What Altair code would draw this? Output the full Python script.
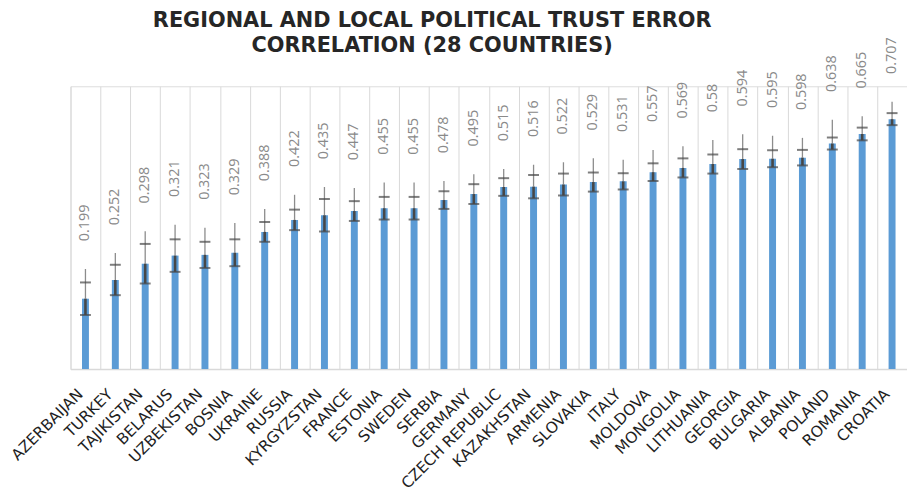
import altair as alt
import pandas as pd

countries = ["AZERBAIJAN", "TURKEY", "TAJIKISTAN", "BELARUS", "UZBEKISTAN", "BOSNIA",
             "UKRAINE", "RUSSIA", "KYRGYZSTAN", "FRANCE", "ESTONIA", "SWEDEN", "SERBIA",
             "GERMANY", "CZECH REPUBLIC", "KAZAKHSTAN", "ARMENIA", "SLOVAKIA", "ITALY",
             "MOLDOVA", "MONGOLIA", "LITHUANIA", "GEORGIA", "BULGARIA", "ALBANIA",
             "POLAND", "ROMANIA", "CROATIA"]
values = [0.199, 0.252, 0.298, 0.321, 0.323, 0.329, 0.388, 0.422, 0.435, 0.447,
          0.455, 0.455, 0.478, 0.495, 0.515, 0.516, 0.522, 0.529, 0.531, 0.557,
          0.569, 0.58, 0.594, 0.595, 0.598, 0.638, 0.665, 0.707]
# half-width of the capped error bar
err = [0.046, 0.043, 0.056, 0.046, 0.037, 0.038, 0.028, 0.029, 0.046, 0.028,
       0.032, 0.032, 0.025, 0.028, 0.025, 0.033, 0.031, 0.027, 0.023, 0.025,
       0.027, 0.027, 0.028, 0.024, 0.022, 0.017, 0.018, 0.017]
# extent of the thin upper whisker above the bar
whisker = [0.084, 0.076, 0.092, 0.087, 0.077, 0.084, 0.065, 0.071, 0.080, 0.065,
           0.073, 0.073, 0.054, 0.056, 0.051, 0.062, 0.063, 0.067, 0.061, 0.063,
           0.061, 0.068, 0.070, 0.065, 0.056, 0.067, 0.050, 0.049]

df = pd.DataFrame({"country": countries, "value": values, "err": err, "whisker": whisker})
df["lo"] = df["value"] - df["err"]
df["hi"] = df["value"] + df["err"]
df["top"] = df["value"] + df["whisker"]
df["label"] = [str(v) for v in values]

x_enc = alt.X("country:N", sort=None, title=None,
              scale=alt.Scale(paddingInner=0, paddingOuter=0),
              axis=alt.Axis(labelAngle=-45, labelFontSize=15.5, labelFont="DejaVu Sans",
                            labelColor="#1f1f1f", labelPadding=28, labelBaseline="bottom",
                            ticks=False, labelOverlap=False,
                            grid=True, gridColor="#d9d9d9", gridWidth=1,
                            tickBand="extent", domainColor="#d9d9d9", domainWidth=1.5,
                            labelLimit=300))
y_scale = alt.Scale(domain=[0, 0.8], nice=False)

base = alt.Chart(df).encode(x=x_enc)

bars = base.mark_bar(size=7, color="#5B9BD5").encode(
    y=alt.Y("value:Q", scale=y_scale, axis=None))
thin = base.mark_rule(color="#8c8c8c", strokeWidth=1.3).encode(
    y=alt.Y("value:Q", scale=y_scale, axis=None), y2="top:Q")
dark = base.mark_rule(color="#474747", strokeWidth=2.6).encode(
    y=alt.Y("lo:Q", scale=y_scale, axis=None), y2="value:Q")
cap_lo = base.mark_tick(color="#474747", thickness=2, size=11).encode(
    y=alt.Y("lo:Q", scale=y_scale, axis=None))
cap_hi = base.mark_tick(color="#474747", thickness=2, size=11).encode(
    y=alt.Y("hi:Q", scale=y_scale, axis=None))
labels = base.mark_text(angle=270, align="left", baseline="middle", dx=28,
                        color="#8a8a8a", fontSize=14.5, font="Open Sans").encode(
    y=alt.Y("top:Q", scale=y_scale, axis=None), text="label:N")

chart = alt.layer(bars, thin, dark, cap_lo, cap_hi, labels).properties(
    width=843, height=285,
    autosize=alt.AutoSizeParams(type="none"),
    padding={"left": 63, "top": 77, "right": 0, "bottom": 118},
    title=alt.TitleParams(
        ["REGIONAL AND LOCAL POLITICAL TRUST ERROR", "CORRELATION (28 COUNTRIES)"],
        font="DejaVu Sans", fontSize=21, fontWeight="bold", color="#262626",
        anchor="middle", frame="group", dx=-57, offset=-19, lineHeight=25),
).configure_view(stroke=None).configure(background="white")

chart.save("out.html", embed_options={"renderer": "svg", "actions": False})
